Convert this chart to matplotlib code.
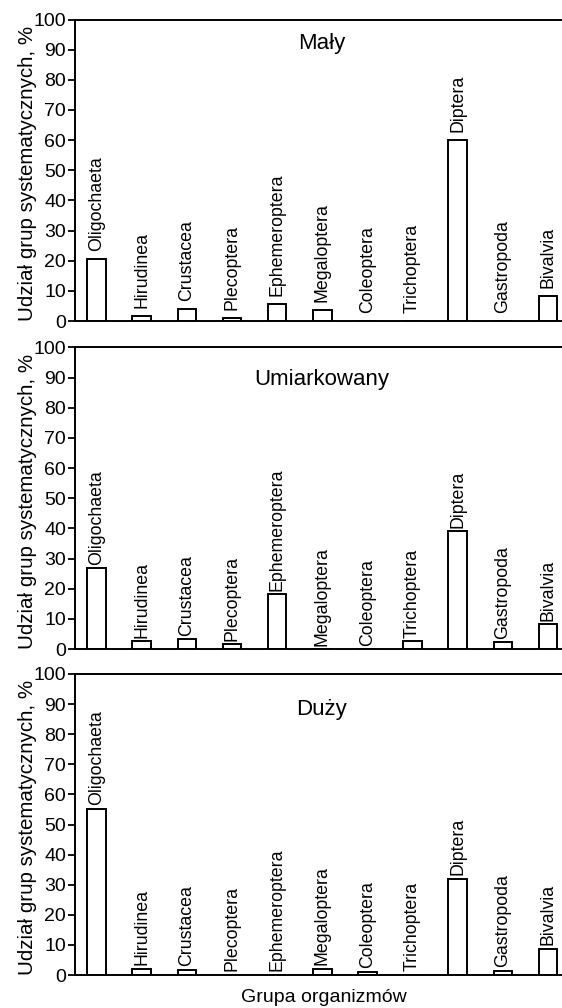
import matplotlib
matplotlib.use("Agg")
import matplotlib.pyplot as plt
from matplotlib.transforms import offset_copy

plt.rcParams['font.family'] = ['Liberation Sans', 'DejaVu Sans']

categories = ["Oligochaeta", "Hirudinea", "Crustacea", "Plecoptera", "Ephemeroptera",
              "Megaloptera", "Coleoptera", "Trichoptera", "Diptera", "Gastropoda", "Bivalvia"]
maly = [20.5, 1.5, 4.0, 1.0, 5.6, 3.5, 0, 0, 60.0, 0, 8.2]
umiarkowany = [27.0, 2.8, 3.2, 1.7, 18.4, 0, 0, 2.8, 39.0, 2.4, 8.3]
duzy = [55.3, 1.9, 1.6, 0, 0, 2.1, 1.0, 0, 31.9, 1.4, 8.5]
panel_titles = ["Mały", "Umiarkowany", "Duży"]
panel_values = [maly, umiarkowany, duzy]
yticks = list(range(0, 101, 10))
ylabel = "Udział grup systematycznych, %"
xlabel = "Grupa organizmów"

W, H = 562, 1008
fig = plt.figure(figsize=(W / 100, H / 100), dpi=100)

# panel layout (pixels): top, bottom
panels_px = [(19.5, 321), (347.5, 649), (674, 975)]
title_y = [0.901, 0.876, 0.864]
label_gap_px = [8, 3, 4]
left_px = 75
axw = W - left_px

for i, (vals, title) in enumerate(zip(panel_values, panel_titles)):
    top, bot = panels_px[i]
    ax = fig.add_axes([left_px / W, 1 - bot / H, axw / W, (bot - top) / H])
    x = list(range(len(categories)))
    ax.bar(x, vals, width=0.41, facecolor="white", edgecolor="black", linewidth=1.4)
    ax.set_xlim(-0.478, 10.31)
    ax.set_ylim(0, 100)
    ax.set_yticks(yticks)
    ax.set_xticks([])
    ax.spines['right'].set_visible(False)
    for s in ['left', 'top', 'bottom']:
        ax.spines[s].set_linewidth(1.4)
    ax.tick_params(axis='y', direction='out', length=5, width=1.3, pad=1.5, labelsize=14)
    ax.set_ylabel(ylabel, fontsize=14.8)
    ax.yaxis.set_label_coords(-0.078, 0.49)
    trans = offset_copy(ax.transData, fig=fig, x=0, y=label_gap_px[i] * 0.72, units='points')
    for xi, (c, v) in enumerate(zip(categories, vals)):
        ax.text(xi, v, c, rotation=90, ha='center', va='bottom', fontsize=12.8,
                transform=trans)
    ax.text((322 - left_px) / axw, title_y[i], title, transform=ax.transAxes,
            ha='center', va='baseline', fontsize=16)

fig.text(324 / W, 1 - 998 / H, xlabel, ha='center', va='center', fontsize=14)

fig.savefig("out.png", dpi=100)
